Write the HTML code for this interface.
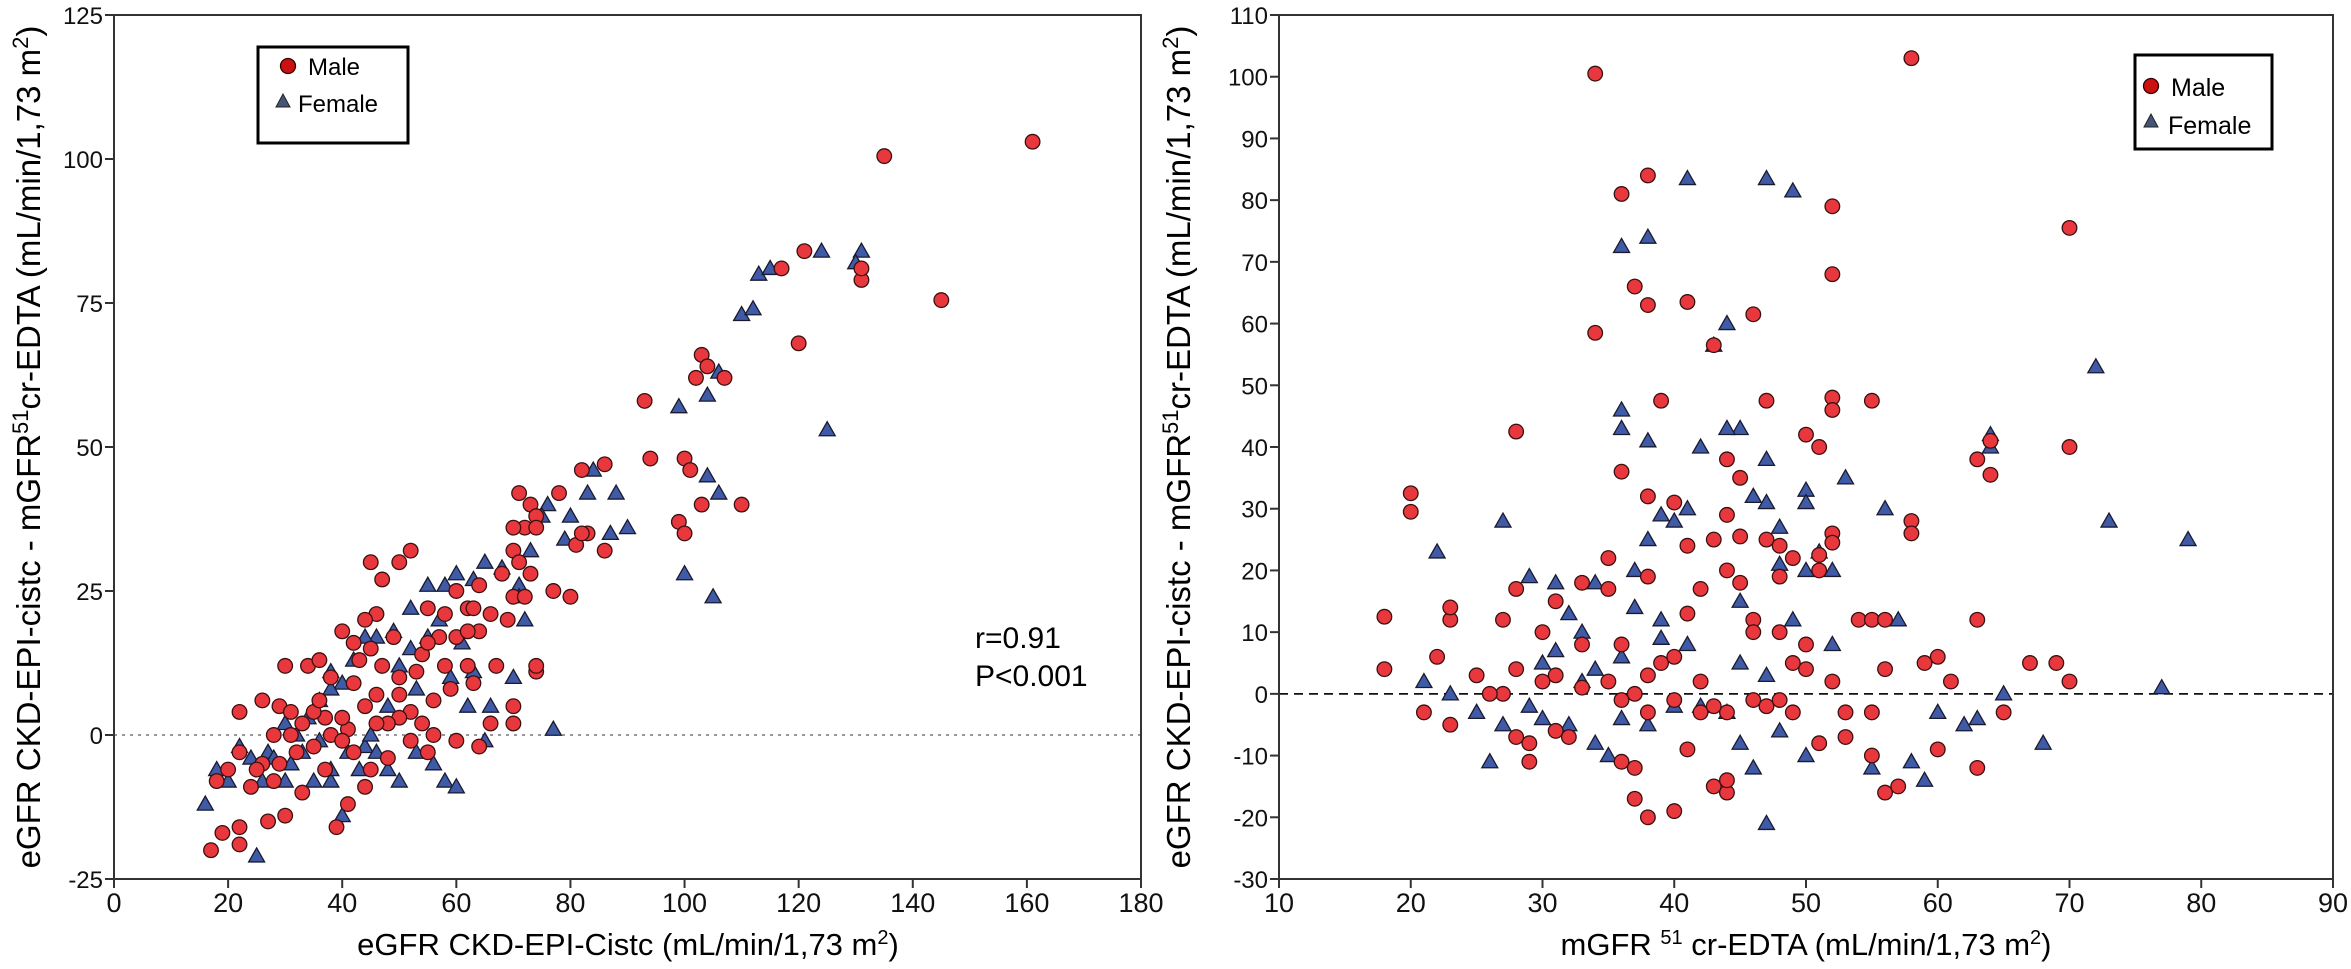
<!DOCTYPE html>
<html><head><meta charset="utf-8"><style>
html,body{margin:0;padding:0;background:#fff;}
svg{display:block;font-family:"Liberation Sans",sans-serif;}
.nar{font-family:"Liberation Sans Narrow","Liberation Sans",sans-serif;}
</style></head><body>
<svg id="chart" width="2351" height="969" viewBox="0 0 2351 969" xmlns="http://www.w3.org/2000/svg"></svg>
<script>
// ---- Left panel data ----
const leftXTicks = [0,20,40,60,80,100,120,140,160,180];
const leftYTicks = [125,100,75,50,25,0,-25];
const leftMaleX = [161,135,145,131,131,121,117,120,103,104,107,102,93,100,94,101,99,100,110,103,86,82,71,78,73,74,72,83,81,86,70,71,73,68,70,72,77,80,64,60,62,55,66,69,64,60,57,54,50,52,45,47,46,44,42,40,55,58,62,67,74,63,59,56,52,50,48,46,44,41,40,37,35,33,31,29,26,28,30,34,38,42,50,53,47,43,36,38,35,32,29,26,24,22,20,18,22,19,17,22,22,28,27,30,39,41,44,48,52,55,60,64,66,70,70,74,56,54,50,46,40,33,25,45,37,42,45,58,63,70,74,82,62,49,36,31];
const leftMaleY = [103,100.5,75.5,79,81,84,81,68,66,64,62,62,58,48,48,46,37,35,40,40,47,46,42,42,40,38,36,35,33,32,32,30,28,28,24,24,25,24,26,25,22,22,21,20,18,17,17,14,30,32,30,27,21,20,16,18,16,12,12,12,11,9,8,6,4,3,2,2,5,1,3,3,4,2,0,5,6,0,12,12,10,9,10,11,12,13,6,0,-2,-3,-5,-5,-9,-3,-6,-8,4,-17,-20,-16,-19,-8,-15,-14,-16,-12,-9,-4,-1,-3,-1,-2,2,5,2,12,0,2,7,7,-1,-10,-6,-6,-6,-3,15,21,22,36,36,35,18,17,13,4];
const leftFemX = [131,130,124,113,115,110,112,104,106,104,106,100,105,125,99,88,84,83,80,79,76,87,90,75,73,71,71,68,65,63,60,58,55,52,49,46,44,42,40,38,38,36,34,32,30,27,26,24,22,20,16,18,25,30,33,35,38,41,44,46,48,50,53,56,58,60,62,66,70,72,77,65,40,38,43,48,50,52,55,57,59,61,63,53,45,36,31,28];
const leftFemY = [84,82,84,80,81,73,74,59,63,45,42,28,24,53,57,42,46,42,38,34,40,35,36,38,32,26,24,29,30,27,28,26,26,22,18,17,17,13,9,11,8,6,3,0,2,-3,-8,-4,-2,-8,-12,-6,-21,-8,-3,-8,-8,-3,-2,-3,-6,-8,-3,-5,-8,-9,5,5,10,20,1,-1,-14,-6,-6,5,12,15,17,20,10,16,11,8,0,-1,-5,-4];
// ---- Right panel data ----
const rightXTicks = [10,20,30,40,50,60,70,80,90];
const rightYTicks = [110,100,90,80,70,60,50,40,30,20,10,0,-10,-20,-30];
const rightMaleX = [58,34,38,36,52,70,37,38,41,46,52,34,43,39,47,52,55,52,70,63,64,64,28,20,20,36,38,40,44,45,50,51,44,43,41,45,47,48,49,51,52,52,58,58,51,48,45,38,35,35,33,41,42,46,48,50,54,55,56,63,69,67,60,59,56,52,50,48,46,44,42,40,38,36,35,33,31,30,28,27,25,23,21,18,18,23,23,22,26,29,29,28,31,32,37,38,37,40,43,44,44,36,41,43,47,49,51,53,55,56,57,60,63,61,65,70,37,39,42,33,31,30,28,27,44,46,40,53,55,38,36,49];
const rightMaleY = [103,100.5,84,81,79,75.5,66,63,63.5,61.5,68,58.5,56.5,47.5,47.5,48,47.5,46,40,38,41,35.5,42.5,32.5,29.5,36,32,31,38,35,42,40,29,25,24,25.5,25,24,22,22.5,26,24.5,28,26,20,19,18,19,22,17,18,13,17,12,10,8,12,12,12,12,5,5,6,5,4,2,4,-1,-1,-3,-3,-1,-3,-1,2,1,3,2,4,0,3,-5,-3,4,12.5,12,14,6,0,-8,-11,-7,-6,-7,-17,-20,-12,-19,-15,-16,-14,-11,-9,-2,-2,-3,-8,-7,-10,-16,-15,-9,-12,2,-3,2,0,5,2,8,15,10,17,12,20,10,6,-3,-3,3,8,5];
const rightFemX = [41,47,49,38,36,44,43,36,36,38,50,50,45,46,56,64,64,72,73,79,77,68,65,62,59,58,55,47,50,48,45,44,42,40,38,36,34,32,30,27,26,25,23,21,22,27,29,31,32,33,34,37,38,39,40,41,42,44,47,47,48,48,50,51,52,53,31,30,34,36,39,41,45,47,49,52,57,60,63,29,33,46,35,39,37,45];
const rightFemY = [83.5,83.5,81.5,74,72.5,60,56.5,46,43,41,33,31,43,32,30,42,40,53,28,25,1,-8,0,-5,-14,-11,-12,-21,-10,-6,-8,-3,-2,-2,-5,-4,-8,-5,-4,-5,-11,-3,0,2,23,28,19,18,13,10,18,20,25,29,28,30,40,43,38,31,27,21,20,23,20,35,7,5,4,6,9,8,5,3,12,8,12,-3,-4,-2,2,-12,-10,12,14,15];

const NS='http://www.w3.org/2000/svg';
const svg=document.getElementById('chart');
function mk(tag,attrs,parent){const e=document.createElementNS(NS,tag);for(const k in attrs)e.setAttribute(k,attrs[k]);(parent||svg).appendChild(e);return e;}

function panel(cfg){
  const g=mk('g',{});
  
  
  const sx=v=>cfg.l+(v-cfg.xmin)/(cfg.xmax-cfg.xmin)*(cfg.r-cfg.l);
  const sy=v=>cfg.b-(v-cfg.ymin)/(cfg.ymax-cfg.ymin)*(cfg.b-cfg.t);
  const z=mk('line',{x1:cfg.l,x2:cfg.r,y1:sy(0),y2:sy(0),stroke:cfg.zeroColor,'stroke-width':cfg.zeroW,'stroke-dasharray':cfg.zeroDash},g);
  
  
  const pts=mk('g',{},g);
  
  
  for(let i=0;i<cfg.fx.length;i++){
    const x=sx(cfg.fx[i]),y=sy(cfg.fy[i]);
    const t=mk('polygon',{points:`${x},${y-8} ${x-8},${y+6} ${x+8},${y+6}`,fill:'#3f5aa6',stroke:'#1a1a2e','stroke-width':1.3},pts);
    
    
  }
  for(let i=0;i<cfg.mx.length;i++){
    const c=mk('circle',{cx:sx(cfg.mx[i]),cy:sy(cfg.my[i]),r:7.3,fill:'#e8383d',stroke:'#3a1010','stroke-width':1.3},pts);
    
    
  }
  const f=mk('rect',{x:cfg.l,y:cfg.t,width:cfg.r-cfg.l,height:cfg.b-cfg.t,fill:'none',stroke:'#333','stroke-width':2},g);
  
  
  cfg.yt.forEach(v=>{
    const y=sy(v);
    mk('line',{x1:cfg.l-9,x2:cfg.l,y1:y,y2:y,stroke:'#333','stroke-width':2},g);
    const tx=mk('text',{x:cfg.l-11,y:y+9,'text-anchor':'end','font-size':24,fill:'#111'},g);
    tx.textContent=v;
    
    
  });
  cfg.xt.forEach(v=>{
    const x=sx(v);
    mk('line',{x1:x,x2:x,y1:cfg.b,y2:cfg.b+9,stroke:'#333','stroke-width':2},g);
    const tx=mk('text',{x:x,y:cfg.b+33,'text-anchor':'middle','font-size':27,fill:'#111','class':'nar'},g);
    tx.textContent=v;
    
    
  });
}
panel({name:'left-scatter-panel',l:114,r:1141,t:15,b:879,xmin:0,xmax:180,ymin:-25,ymax:125,
  xt:leftXTicks,yt:leftYTicks,mx:leftMaleX,my:leftMaleY,fx:leftFemX,fy:leftFemY,
  zeroColor:'#777',zeroW:1.5,zeroDash:'3 5'});
panel({name:'right-scatter-panel',l:1279,r:2333,t:15,b:879,xmin:10,xmax:90,ymin:-30,ymax:110,
  xt:rightXTicks,yt:rightYTicks,mx:rightMaleX,my:rightMaleY,fx:rightFemX,fy:rightFemY,
  zeroColor:'#111',zeroW:1.8,zeroDash:'9 6'});
</script>
<svg style="position:absolute;left:0;top:0" width="2351" height="969" xmlns="http://www.w3.org/2000/svg" font-family="Liberation Sans, sans-serif">
  <g>
    <rect x="258" y="47" width="150" height="96" fill="#fff" stroke="#000" stroke-width="3"/>
    <circle cx="288" cy="66" r="7.5" fill="#cc1111" stroke="#300" stroke-width="1.3"/>
    <text x="308" y="75" font-size="24">Male</text>
    <polygon points="283,94 276,107 290,107" fill="#445577" stroke="#222" stroke-width="1"/>
    <text x="298" y="112" font-size="24">Female</text>
  </g>
  <g>
    <rect x="2135" y="55" width="137" height="94" fill="#fff" stroke="#000" stroke-width="3"/>
    <circle cx="2151" cy="86" r="7.5" fill="#cc1111" stroke="#300" stroke-width="1.3"/>
    <text x="2171" y="96" font-size="25">Male</text>
    <polygon points="2151,114 2144,127 2158,127" fill="#445577" stroke="#222" stroke-width="1"/>
    <text x="2168" y="134" font-size="25">Female</text>
  </g>
  <text x="975" y="648" font-size="30">r=0.91</text>
  <text x="975" y="686" font-size="30">P&lt;0.001</text>
  <text x="628" y="955" text-anchor="middle" font-size="31">eGFR CKD-EPI-Cistc (mL/min/1,73 m<tspan baseline-shift="super" font-size="20">2</tspan>)</text>
  <text x="1806" y="955" text-anchor="middle" font-size="31">mGFR <tspan baseline-shift="super" font-size="20">51</tspan> cr-EDTA (mL/min/1,73 m<tspan baseline-shift="super" font-size="20">2</tspan>)</text>
  <text transform="translate(40,447) rotate(-90)" text-anchor="middle" font-size="33">eGFR CKD-EPI-cistc - mGFR<tspan baseline-shift="super" font-size="22">51</tspan>cr-EDTA (mL/min/1,73 m<tspan baseline-shift="super" font-size="22">2</tspan>)</text>
  <text transform="translate(1190,447) rotate(-90)" text-anchor="middle" font-size="33">eGFR CKD-EPI-cistc - mGFR<tspan baseline-shift="super" font-size="22">51</tspan>cr-EDTA (mL/min/1,73 m<tspan baseline-shift="super" font-size="22">2</tspan>)</text>
</svg>
</body></html>
